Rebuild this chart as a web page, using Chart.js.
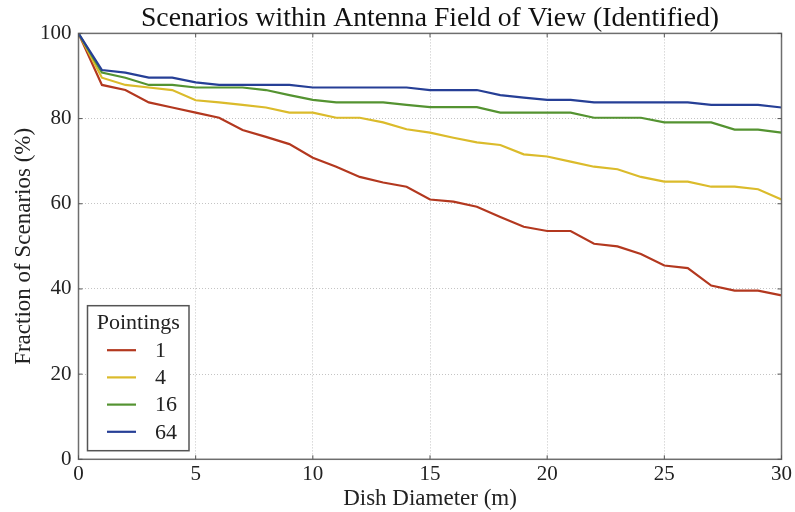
<!DOCTYPE html>
<html>
<head>
<meta charset="utf-8">
<script src="https://cdn.jsdelivr.net/npm/chart.js@4"></script>
<style>
html,body{margin:0;padding:0;background:#fff;}
#wrap{width:795px;height:512px;}
</style>
</head>
<body>
<div id="wrap"><canvas id="c" width="795" height="512"></canvas></div>
<script>
const diameters = [0,1,2,3,4,5,6,7,8,9,10,11,12,13,14,15,16,17,18,19,20,21,22,23,24,25,26,27,28,29,30];
const pointings1 = [100, 87.9, 86.7, 83.8, 82.6, 81.4, 80.2, 77.3, 75.7, 74.0, 70.8, 68.7, 66.3, 65.0, 64.0, 61.0, 60.5, 59.3, 56.9, 54.6, 53.6, 53.6, 50.6, 50.0, 48.2, 45.5, 44.9, 40.8, 39.6, 39.6, 38.5];
const pointings4 = [100, 89.6, 87.9, 87.3, 86.7, 84.3, 83.8, 83.2, 82.6, 81.4, 81.4, 80.2, 80.2, 79.1, 77.5, 76.7, 75.5, 74.4, 73.8, 71.6, 71.1, 69.9, 68.7, 68.1, 66.3, 65.2, 65.2, 64.0, 64.0, 63.4, 61.0];
const pointings16 = [100, 90.8, 89.6, 87.9, 87.9, 87.3, 87.3, 87.3, 86.7, 85.5, 84.4, 83.8, 83.8, 83.8, 83.2, 82.7, 82.7, 82.7, 81.4, 81.4, 81.4, 81.4, 80.2, 80.2, 80.2, 79.1, 79.1, 79.1, 77.4, 77.4, 76.7];
const pointings64 = [100, 91.4, 90.8, 89.6, 89.6, 88.5, 87.9, 87.9, 87.9, 87.9, 87.3, 87.3, 87.3, 87.3, 87.3, 86.7, 86.7, 86.7, 85.5, 84.9, 84.4, 84.4, 83.8, 83.8, 83.8, 83.8, 83.8, 83.2, 83.2, 83.2, 82.6];
const seriesLabels = ['1', '4', '16', '64'];
const xTicks = [0,5,10,15,20,25,30];
const yTicks = [0,20,40,60,80,100];
const titleText = 'Scenarios within Antenna Field of View (Identified)';
const xTitle = 'Dish Diameter (m)';
const yTitle = 'Fraction of Scenarios (%)';
const legendTitle = 'Pointings';

const colors = ['#b3381f', '#dbbb2b', '#549331', '#263f96'];
const SERIF = "'Liberation Serif', 'DejaVu Serif', serif";

function pts(arr){ return arr.map((v,i)=>({x:diameters[i], y:v})); }
const seriesData = [pointings1, pointings4, pointings16, pointings64];

const framePlugin = {
  id: 'frame',
  afterDatasetsDraw(chart){
    const {ctx, chartArea:a, scales:{x, y}} = chart;
    ctx.save();
    ctx.strokeStyle = '#6e6e6e';
    ctx.lineWidth = 1.5;
    ctx.strokeRect(a.left, a.top, a.right - a.left, a.bottom - a.top);
    ctx.lineWidth = 1;
    ctx.strokeStyle = '#555';
    const L = 4;
    ctx.beginPath();
    xTicks.forEach(t=>{
      const px = x.getPixelForValue(t);
      ctx.moveTo(px, a.bottom); ctx.lineTo(px, a.bottom - L);
      ctx.moveTo(px, a.top); ctx.lineTo(px, a.top + L);
    });
    yTicks.forEach(t=>{
      const py = y.getPixelForValue(t);
      ctx.moveTo(a.left, py); ctx.lineTo(a.left + L, py);
      ctx.moveTo(a.right, py); ctx.lineTo(a.right - L, py);
    });
    ctx.stroke();
    ctx.restore();
  },
  afterDraw(chart){
    const {ctx, chartArea:a} = chart;
    ctx.save();
    ctx.fillStyle = '#111';
    ctx.font = "27.7px " + SERIF;
    ctx.textAlign = 'center';
    ctx.textBaseline = 'alphabetic';
    ctx.fillText(titleText, (a.left + a.right)/2, 26);
    ctx.restore();
  }
};

const legendPlugin = {
  id: 'boxLegend',
  afterDraw(chart){
    const {ctx, chartArea:a} = chart;
    const left = a.left + 9, right = a.left + 110.5;
    const bottom = a.bottom - 8.6, top = bottom - 145;
    ctx.save();
    ctx.fillStyle = '#fff';
    ctx.fillRect(left, top, right-left, bottom-top);
    ctx.strokeStyle = '#555';
    ctx.lineWidth = 1.5;
    ctx.strokeRect(left, top, right-left, bottom-top);
    ctx.fillStyle = '#222';
    ctx.font = "22px " + SERIF;
    ctx.textBaseline = 'alphabetic';
    ctx.textAlign = 'center';
    ctx.fillText(legendTitle, (left+right)/2, top + 23);
    ctx.textAlign = 'left';
    ctx.textBaseline = 'middle';
    chart.data.datasets.forEach((ds, i)=>{
      const cy = top + 44.5 + i*27.2;
      ctx.strokeStyle = ds.borderColor;
      ctx.lineWidth = 2.2;
      ctx.beginPath();
      ctx.moveTo(left + 19.5, cy); ctx.lineTo(left + 48.5, cy);
      ctx.stroke();
      ctx.fillStyle = '#222';
      ctx.fillText(ds.label, left + 67.5, cy + 1);
    });
    ctx.restore();
  }
};

new Chart(document.getElementById('c'), {
  type: 'line',
  data: {
    datasets: seriesData.map((arr, i)=>({
      label: seriesLabels[i],
      data: pts(arr),
      borderColor: colors[i],
      backgroundColor: colors[i],
      borderWidth: 2.2,
      pointRadius: 0,
      tension: 0,
      fill: false,
      order: 3 - i
    }))
  },
  options: {
    responsive: false,
    animation: false,
    layout: { padding: { left: 0, right: 12, top: 33.4, bottom: 0 } },
    plugins: {
      legend: { display: false },
      tooltip: { enabled: false },
      title: { display: false }
    },
    scales: {
      x: {
        type: 'linear',
        min: 0, max: 30,
        afterBuildTicks(scale){ scale.ticks = xTicks.map(v=>({value:v})); },
        afterFit(scale){ scale.height = 52.7; },
        ticks: { color: '#222', font: { family: SERIF, size: 21 }, padding: 3, maxRotation: 0 },
        grid: { color: '#c4c4c4', lineWidth: 1, drawTicks: false },
        border: { display: false, dash: [1, 2] },
        title: { display: true, text: xTitle, color: '#222', font: { family: SERIF, size: 23 }, padding: { top: 0, bottom: -1 } }
      },
      y: {
        type: 'linear',
        min: 0, max: 100,
        afterBuildTicks(scale){ scale.ticks = yTicks.map(v=>({value:v})); },
        afterFit(scale){ scale.width = 78.5; },
        ticks: { color: '#222', font: { family: SERIF, size: 21 }, padding: 7 },
        grid: { color: '#c4c4c4', lineWidth: 1, drawTicks: false },
        border: { display: false, dash: [1, 2] },
        title: { display: true, text: yTitle, color: '#222', font: { family: SERIF, size: 23 }, padding: { top: 10, bottom: 0 } }
      }
    }
  },
  plugins: [framePlugin, legendPlugin]
});
</script>
</body>
</html>
